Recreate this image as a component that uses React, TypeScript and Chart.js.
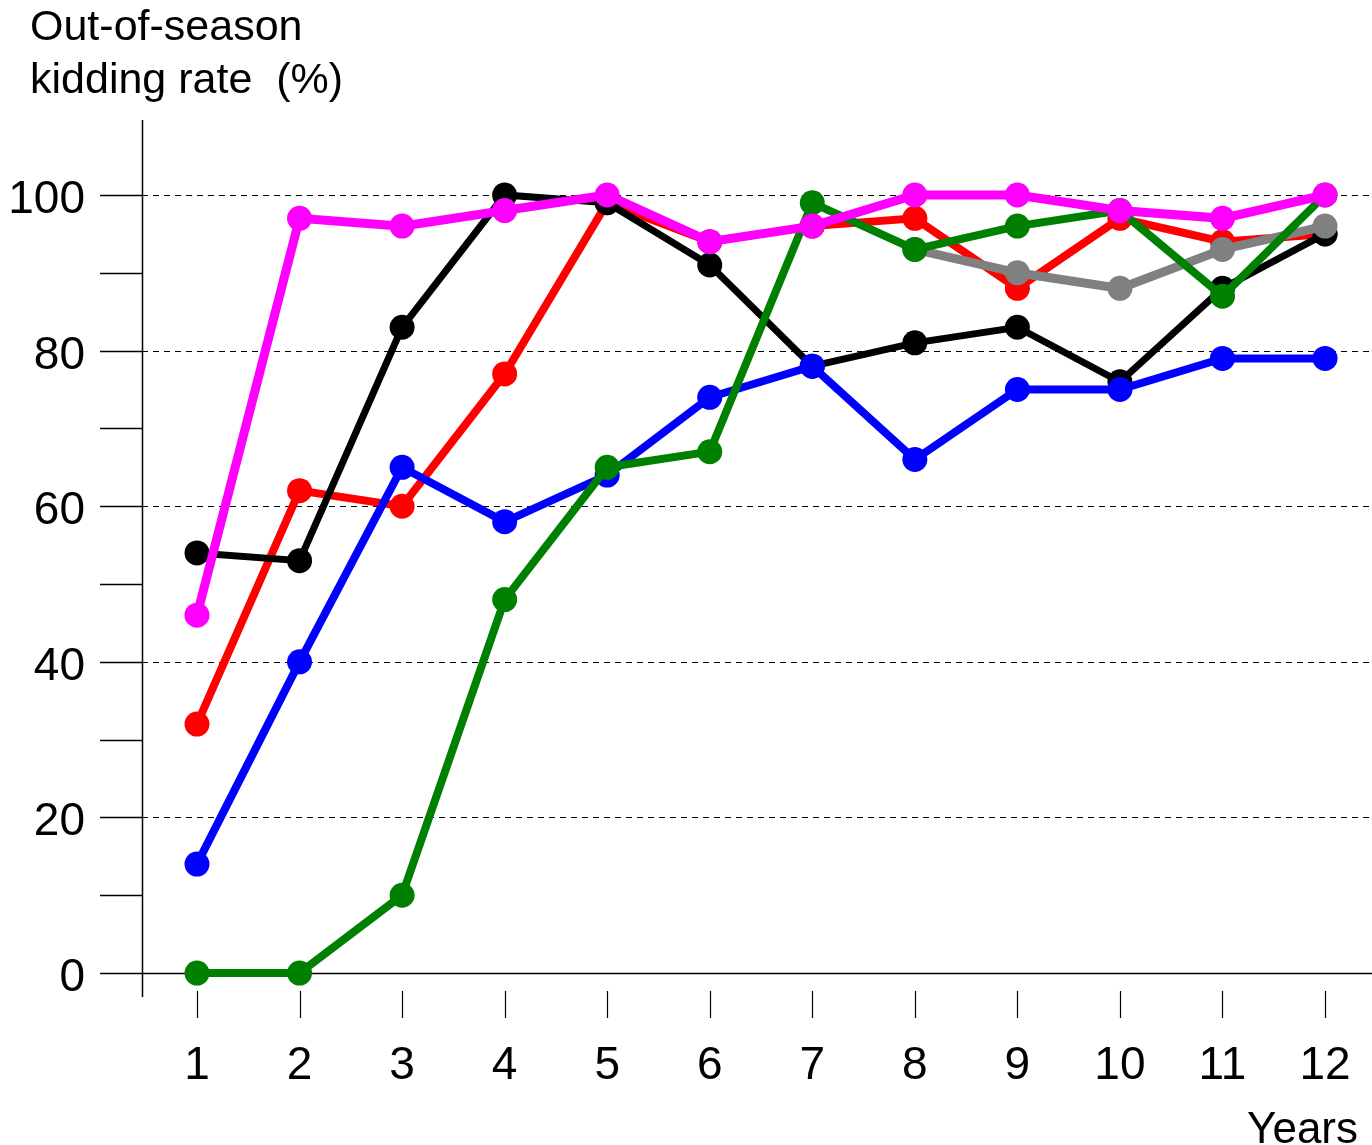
import React, { useEffect, useRef } from "react";
import { Chart, registerables } from "chart.js";

Chart.register(...registerables);

const years = [1, 2, 3, 4, 5, 6, 7, 8, 9, 10, 11, 12];
const xTickLabels = ["1", "2", "3", "4", "5", "6", "7", "8", "9", "10", "11", "12"];
const yLabelTicks = [0, 20, 40, 60, 80, 100];
const yMinorTicks = [0, 10, 20, 30, 40, 50, 60, 70, 80, 90, 100];
const gridValues = [20, 40, 60, 80, 100];

const pinkSeries = [46, 97, 96, 98, 100, 94, 96, 100, 100, 98, 97, 100];
const greenSeries = [0, 0, 10, 48, 65, 67, 99, 93, 96, 98, 87, 100];
const blueSeries = [14, 40, 65, 58, 64, 74, 78, 66, 75, 75, 79, 79];
const graySeries = [null, null, null, null, null, null, null, 93, 90, 88, 93, 96];
const blackSeries = [54, 53, 83, 100, 99, 91, 78, 81, 83, 76, 88, 95];
const redSeries = [32, 62, 60, 77, 99, 94, 96, 97, 88, 97, 94, 95];

const titleLines = ["Out-of-season", "kidding rate  (%)"];
const xTitle = "Years";

const FONT = '"Liberation Sans", Arial, sans-serif';

function mk(label: string, data: (number | null)[], color: string, width: number) {
  return {
    label,
    data: years.map((x, i) => ({ x, y: data[i] })),
    borderColor: color,
    backgroundColor: color,
    pointBackgroundColor: color,
    pointBorderColor: color,
    borderWidth: width,
    pointRadius: 12.5,
    pointBorderWidth: 0,
    pointHoverRadius: 12.5,
    tension: 0,
    spanGaps: false,
    clip: false as any,
  };
}

const axesPlugin = {
  id: "customAxes",
  beforeDatasetsDraw(chart: any) {
    const ctx = chart.ctx;
    const xs = chart.scales.x;
    const ys = chart.scales.y;
    const area = chart.chartArea;
    ctx.save();
    ctx.strokeStyle = "#000";
    ctx.lineWidth = 1;
    ctx.setLineDash([6, 5]);
    gridValues.forEach((v) => {
      const py = Math.round(ys.getPixelForValue(v)) + 0.5;
      ctx.beginPath();
      ctx.moveTo(area.left, py);
      ctx.lineTo(area.right, py);
      ctx.stroke();
    });
    ctx.setLineDash([]);
    const p0 = Math.round(ys.getPixelForValue(0)) + 0.5;
    ctx.lineWidth = 1.5;
    ctx.beginPath();
    ctx.moveTo(area.left, p0);
    ctx.lineTo(area.right, p0);
    ctx.stroke();
    ctx.beginPath();
    ctx.moveTo(area.left + 0.5, area.top);
    ctx.lineTo(area.left + 0.5, area.bottom);
    ctx.stroke();
    yMinorTicks.forEach((v) => {
      const py = Math.round(ys.getPixelForValue(v)) + 0.5;
      ctx.beginPath();
      ctx.moveTo(area.left - 42, py);
      ctx.lineTo(area.left, py);
      ctx.stroke();
    });
    ctx.lineWidth = 1.2;
    years.forEach((v) => {
      const px = Math.round(xs.getPixelForValue(v)) + 0.5;
      ctx.beginPath();
      ctx.moveTo(px, area.bottom - 6);
      ctx.lineTo(px, area.bottom + 21);
      ctx.stroke();
    });
    ctx.restore();
  },
  afterDraw(chart: any) {
    const ctx = chart.ctx;
    const xs = chart.scales.x;
    const ys = chart.scales.y;
    ctx.save();
    ctx.fillStyle = "#000";
    ctx.font = `46px ${FONT}`;
    ctx.textBaseline = "alphabetic";
    ctx.textAlign = "right";
    yLabelTicks.forEach((v) => {
      const py = ys.getPixelForValue(v);
      ctx.fillText(String(v), 85, py + 18);
    });
    ctx.textAlign = "center";
    years.forEach((v, i) => {
      const px = xs.getPixelForValue(v);
      ctx.fillText(xTickLabels[i], px, 1079);
    });
    ctx.font = `44px ${FONT}`;
    ctx.textAlign = "right";
    ctx.fillText(xTitle, 1358, 1143);
    ctx.font = `43px ${FONT}`;
    ctx.textAlign = "left";
    ctx.fillText(titleLines[0], 30, 40);
    ctx.fillText(titleLines[1], 30, 93);
    ctx.restore();
  },
};

export default function App() {
  const ref = useRef<HTMLCanvasElement | null>(null);
  useEffect(() => {
    if (!ref.current) return;
    const chart = new Chart(ref.current, {
      type: "line",
      data: {
        datasets: [
          mk("Pink", pinkSeries, "#FF00FF", 9),
          mk("Green", greenSeries, "#008000", 8),
          mk("Blue", blueSeries, "#0000FF", 8),
          mk("Gray", graySeries, "#808080", 9),
          mk("Black", blackSeries, "#000000", 7),
          mk("Red", redSeries, "#FF0000", 8),
        ] as any,
      },
      options: {
        animation: false,
        responsive: false,
        devicePixelRatio: 1,
        layout: { autoPadding: false, padding: { left: 142, right: 0, top: 120, bottom: 148 } },
        plugins: { legend: { display: false }, tooltip: { enabled: false } },
        events: [],
        scales: {
          x: { type: "linear", min: 0.4637, max: 12.458, display: false },
          y: { type: "linear", min: -3.08, max: 109.64, display: false },
        },
      } as any,
      plugins: [axesPlugin],
    });
    return () => chart.destroy();
  }, []);
  return (
    <div style={{ position: "absolute", left: 0, top: 0, width: 1372, height: 1145, background: "#fff" }}>
      <canvas ref={ref} width={1372} height={1145} style={{ width: 1372, height: 1145, display: "block" }} />
    </div>
  );
}
